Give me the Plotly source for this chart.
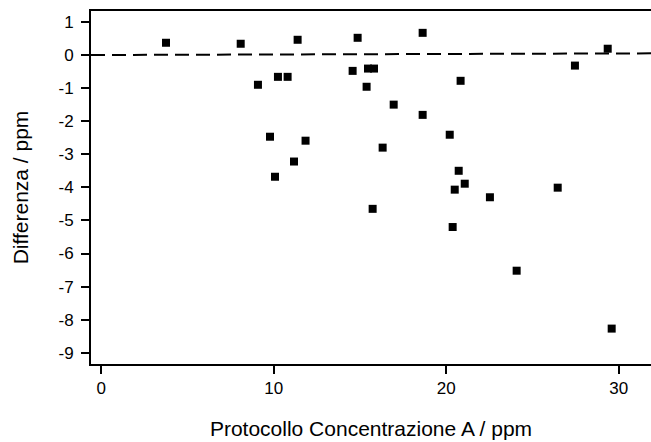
import plotly.graph_objects as go

# Data
conc_a = [3.75, 8.08, 9.08, 9.78, 10.07, 10.24, 10.80, 11.17, 11.38, 11.84,
          14.57, 14.86, 15.38, 15.46, 15.81, 15.73, 16.31, 16.95, 18.63, 18.63,
          20.20, 20.37, 20.49, 20.72, 20.83, 21.07, 22.53, 24.08, 26.46, 27.46,
          29.36, 29.59]
difference = [0.37, 0.34, -0.90, -2.47, -3.68, -0.66, -0.66, -3.22, 0.46, -2.59,
              -0.48, 0.52, -0.96, -0.41, -0.41, -4.65, -2.80, -1.50, 0.67, -1.81,
              -2.41, -5.20, -4.07, -3.50, -0.78, -3.89, -4.30, -6.52, -4.01, -0.32,
              0.19, -8.27]

ref_line_x = [-0.6, 31.87]
ref_line_y = [0.0, 0.05]

x_ticks = [0, 10, 20, 30]
y_ticks = [1, 0, -1, -2, -3, -4, -5, -6, -7, -8, -9]

x_range = [-0.6, 31.87]
y_range = [-9.34, 1.33]

font_family = "Liberation Sans, Arial, sans-serif"

fig = go.Figure()
fig.add_trace(go.Scatter(
    x=ref_line_x, y=ref_line_y, mode="lines",
    line=dict(color="black", width=2, dash="14px,7px"),
    showlegend=False, hoverinfo="skip",
))
fig.add_trace(go.Scatter(
    x=conc_a, y=difference, mode="markers",
    marker=dict(symbol="square", size=8, color="black", line=dict(width=0)),
    showlegend=False,
))

fig.update_layout(
    width=651, height=442,
    margin=dict(l=91, r=0, t=11, b=78),
    paper_bgcolor="white", plot_bgcolor="white",
    font=dict(family=font_family, color="black", size=17),
    xaxis=dict(
        range=x_range, tickvals=x_ticks, ticktext=[str(v) for v in x_ticks],
        showgrid=False, zeroline=False,
        showline=True, linecolor="black", linewidth=2, mirror=True,
        ticks="outside", ticklen=8, tickwidth=2, tickcolor="black",
        tickfont=dict(size=17, color="black"),
        title=dict(text="Protocollo Concentrazione A / ppm",
                   font=dict(size=21, color="black"), standoff=24),
    ),
    yaxis=dict(
        range=y_range, tickvals=y_ticks, ticktext=[str(v) for v in y_ticks],
        showgrid=False, zeroline=False,
        showline=True, linecolor="black", linewidth=2, mirror=False,
        ticks="outside", ticklen=8, tickwidth=2, tickcolor="black",
        ticklabelstandoff=4,
        tickfont=dict(size=17, color="black"),
        title=dict(text="Differenza / ppm",
                   font=dict(size=21, color="black"), standoff=24),
    ),
)

fig.write_html("out.html")
